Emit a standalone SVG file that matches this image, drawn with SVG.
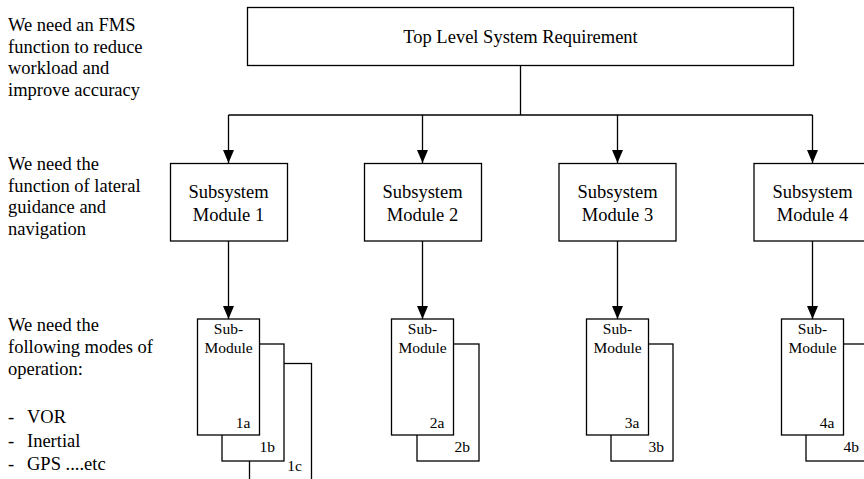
<svg xmlns="http://www.w3.org/2000/svg" width="864" height="479" viewBox="0 0 864 479" font-family="'Liberation Serif', 'Times New Roman', serif">
<defs>
<style>
text{font-family:'Liberation Serif','Times New Roman',serif;fill:#000}
.t{font-size:18.5px}
.c{text-anchor:middle}
.s{font-size:15.5px}
.e{text-anchor:end}
rect{fill:#fff;stroke:#000;stroke-width:1.3}
.ln{fill:none;stroke:#000;stroke-width:1.3}
</style>
<marker id="ah" markerWidth="13" markerHeight="11" refX="13" refY="5.5" orient="auto" markerUnits="userSpaceOnUse" viewBox="0 0 13 11">
<path d="M0,0 L13,5.5 L0,11 Z" fill="#000"/>
</marker>
</defs>
<rect width="864" height="479" style="fill:#fff;stroke:none"/>

<g id="notes">
<text class="t" x="8" y="31">We need an FMS</text>
<text class="t" x="8" y="52.5">function to reduce</text>
<text class="t" x="8" y="74">workload and</text>
<text class="t" x="8" y="95.5">improve accuracy</text>
<text class="t" x="8" y="170">We need the</text>
<text class="t" x="8" y="191.5">function of lateral</text>
<text class="t" x="8" y="213">guidance and</text>
<text class="t" x="8" y="234.5">navigation</text>
<text class="t" x="8" y="331">We need the</text>
<text class="t" x="8" y="353">following modes of</text>
<text class="t" x="8" y="375">operation:</text>
<text class="t" x="8" y="423">-</text><text class="t" x="27" y="423">VOR</text>
<text class="t" x="8" y="447">-</text><text class="t" x="27" y="447">Inertial</text>
<text class="t" x="8" y="470">-</text><text class="t" x="27" y="470">GPS ....etc</text>
</g>

<g id="connectors">
<polyline class="ln" points="520.5,66 520.5,115"/>
<polyline class="ln" points="228.5,115 812.5,115"/>
<line class="ln" x1="228.5" y1="115" x2="228.5" y2="163" marker-end="url(#ah)"/>
<line class="ln" x1="422.5" y1="115" x2="422.5" y2="163" marker-end="url(#ah)"/>
<line class="ln" x1="617.5" y1="115" x2="617.5" y2="163" marker-end="url(#ah)"/>
<line class="ln" x1="812.5" y1="115" x2="812.5" y2="163" marker-end="url(#ah)"/>
<line class="ln" x1="228.5" y1="241" x2="228.5" y2="319" marker-end="url(#ah)"/>
<line class="ln" x1="422.5" y1="241" x2="422.5" y2="319" marker-end="url(#ah)"/>
<line class="ln" x1="617.5" y1="241" x2="617.5" y2="319" marker-end="url(#ah)"/>
<line class="ln" x1="812.5" y1="241" x2="812.5" y2="319" marker-end="url(#ah)"/>
</g>

<g id="top">
<rect x="247.5" y="7.5" width="546" height="58"/>
<text class="t c" x="520.5" y="43">Top Level System Requirement</text>
</g>

<g id="module1">
<rect x="170.5" y="163.5" width="117" height="77.5"/>
<text class="t c" x="228.5" y="198">Subsystem</text>
<text class="t c" x="228.5" y="221">Module 1</text>
</g>
<g id="module2">
<rect x="364.5" y="163.5" width="117" height="77.5"/>
<text class="t c" x="422.5" y="198">Subsystem</text>
<text class="t c" x="422.5" y="221">Module 2</text>
</g>
<g id="module3">
<rect x="559" y="163.5" width="117" height="77.5"/>
<text class="t c" x="617.5" y="198">Subsystem</text>
<text class="t c" x="617.5" y="221">Module 3</text>
</g>
<g id="module4">
<rect x="754" y="163.5" width="117" height="77.5"/>
<text class="t c" x="812.5" y="198">Subsystem</text>
<text class="t c" x="812.5" y="221">Module 4</text>
</g>

<g id="sub1c">
<rect x="249.5" y="363.5" width="62" height="117"/>
<text class="s e" x="302" y="471">1c</text>
</g>
<g id="sub1b">
<rect x="222" y="344" width="62" height="117"/>
<text class="s e" x="275" y="452">1b</text>
</g>
<g id="sub1a">
<rect x="197.5" y="319" width="62" height="116"/>
<text class="s c" x="228.5" y="334">Sub-</text>
<text class="s c" x="228.5" y="353">Module</text>
<text class="s e" x="250.5" y="428">1a</text>
</g>

<g id="sub2b">
<rect x="417" y="344" width="62" height="117"/>
<text class="s e" x="470" y="452">2b</text>
</g>
<g id="sub2a">
<rect x="391.5" y="319" width="62" height="116"/>
<text class="s c" x="422.5" y="334">Sub-</text>
<text class="s c" x="422.5" y="353">Module</text>
<text class="s e" x="444.5" y="428">2a</text>
</g>

<g id="sub3b">
<rect x="611" y="344" width="62" height="117"/>
<text class="s e" x="664" y="452">3b</text>
</g>
<g id="sub3a">
<rect x="586.5" y="319" width="62" height="116"/>
<text class="s c" x="617.5" y="334">Sub-</text>
<text class="s c" x="617.5" y="353">Module</text>
<text class="s e" x="639.5" y="428">3a</text>
</g>

<g id="sub4b">
<rect x="806" y="344" width="62" height="117"/>
<text class="s e" x="859" y="452">4b</text>
</g>
<g id="sub4a">
<rect x="781.5" y="319" width="62" height="116"/>
<text class="s c" x="812.5" y="334">Sub-</text>
<text class="s c" x="812.5" y="353">Module</text>
<text class="s e" x="834.5" y="428">4a</text>
</g>
</svg>
